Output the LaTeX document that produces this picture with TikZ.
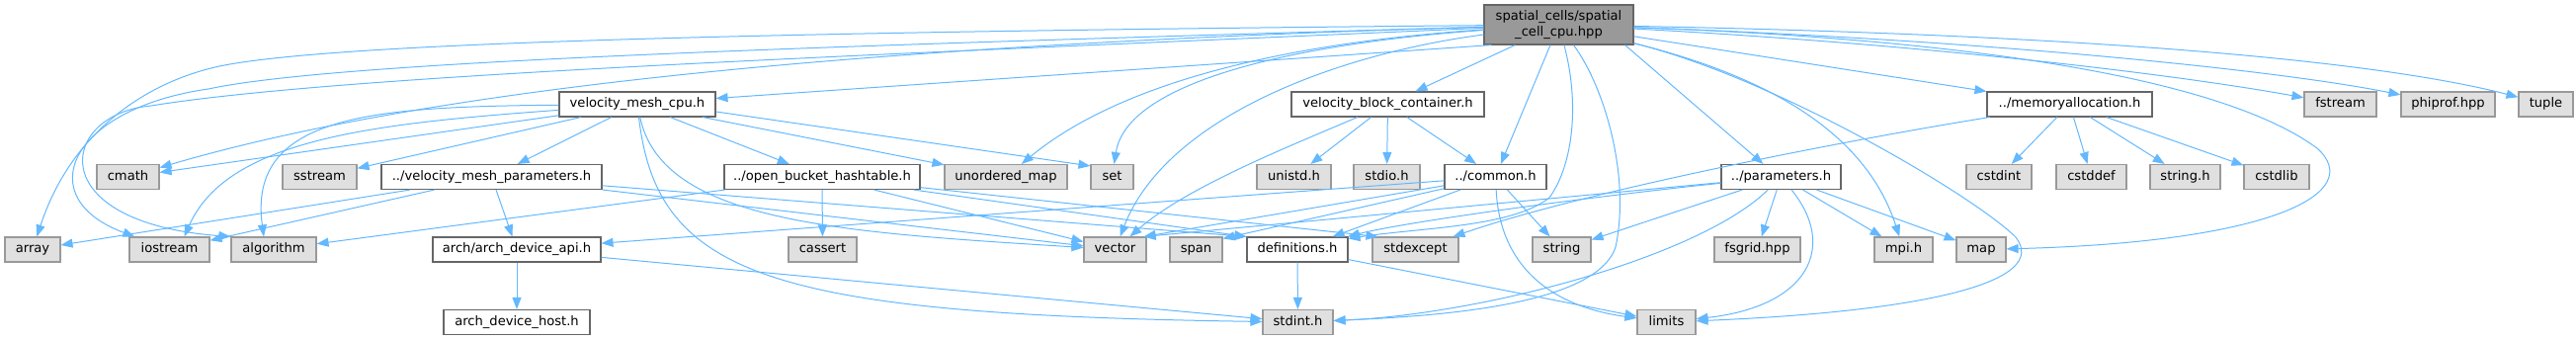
\documentclass[tikz,border=0pt]{standalone}
\usepackage{fontspec}
\setmainfont{DejaVu Sans}
\usetikzlibrary{arrows.meta,calc}
\definecolor{edgec}{HTML}{63B8FF}
\definecolor{sysfill}{HTML}{E0E0E0}
\definecolor{sysdraw}{HTML}{999999}
\definecolor{usrdraw}{HTML}{666666}
\definecolor{rootfill}{HTML}{999999}
\begin{document}
\begin{tikzpicture}[x=1pt,y=-1pt,
  boxbase/.style={draw, line width=1.1pt, inner xsep=1pt, inner ysep=0pt,
    font=\fontsize{13.1}{15.5}\selectfont, anchor=center},
  box/.style={boxbase, text height=9.5pt, text depth=3pt, minimum height=25pt},
  sys/.style={box, fill=sysfill, draw=sysdraw},
  usr/.style={box, fill=white, draw=usrdraw},
  root/.style={boxbase, fill=rootfill, draw=usrdraw, align=center, minimum height=40pt},
  e/.style={draw=edgec, line width=1pt, -{Triangle[length=12pt,width=9pt]}}]
\useasboundingbox (0,0) rectangle (2607,344);

% row 0
\node[root, minimum width=151pt] (S) at (1577.5,25) {spatial\_cells/spatial\\\_cell\_cpu.hpp};
% row 1
\node[usr, minimum width=158pt] (VM) at (645,105.5) {velocity\_mesh\_cpu.h};
\node[usr, minimum width=195pt] (VBC) at (1404.5,105.5) {velocity\_block\_container.h};
\node[usr, minimum width=167pt] (MA) at (2094.5,105.5) {../memoryallocation.h};
\node[sys, minimum width=73pt] (fstream) at (2368.5,105.5) {fstream};
\node[sys, minimum width=95pt] (phiprof) at (2477.5,105.5) {phiprof.hpp};
\node[sys, minimum width=55pt] (tuple) at (2576.5,105.5) {tuple};
% row 2
\begin{scope}[every node/.append style={minimum height=26pt}]
\node[sys, minimum width=63pt] (cmath) at (129.5,179) {cmath};
\node[sys, minimum width=75pt] (sstream) at (323.5,179) {sstream};
\node[usr, minimum width=223pt] (VMP) at (497.5,179) {../velocity\_mesh\_parameters.h};
\node[usr, minimum width=198pt] (OBH) at (832,179) {../open\_bucket\_hashtable.h};
\node[sys, minimum width=124pt] (umap) at (1018,179) {unordered\_map};
\node[sys, minimum width=43pt] (set) at (1125.5,179) {set};
\node[sys, minimum width=75pt] (unistd) at (1309.5,179) {unistd.h};
\node[sys, minimum width=67pt] (stdio) at (1403.5,179) {stdio.h};
\node[usr, minimum width=103pt] (common) at (1513.5,179) {../common.h};
\node[usr, minimum width=121pt] (params) at (1802.5,179) {../parameters.h};
\node[sys, minimum width=66pt] (cstdint) at (2023,179) {cstdint};
\node[sys, minimum width=71pt] (cstddef) at (2116.5,179) {cstddef};
\node[sys, minimum width=71pt] (stringh) at (2211.5,179) {string.h};
\node[sys, minimum width=66pt] (cstdlib) at (2304,179) {cstdlib};
\end{scope}
% row 3
\node[sys, minimum width=56pt] (array) at (33,252.5) {array};
\node[sys, minimum width=81pt] (iostream) at (171.5,252.5) {iostream};
\node[sys, minimum width=86pt] (algorithm) at (277,252.5) {algorithm};
\node[usr, minimum width=170pt] (api) at (523,252.5) {arch/arch\_device\_api.h};
\node[sys, minimum width=69pt] (cassert) at (832.5,252.5) {cassert};
\node[sys, minimum width=63pt] (vector) at (1128.5,252.5) {vector};
\node[sys, minimum width=53pt] (span) at (1210.5,252.5) {span};
\node[usr, minimum width=102pt] (defs) at (1313,252.5) {definitions.h};
\node[sys, minimum width=87pt] (stdexcept) at (1432.5,252.5) {stdexcept};
\node[sys, minimum width=59pt] (string) at (1580.5,252.5) {string};
\node[sys, minimum width=87pt] (fsgrid) at (1778.5,252.5) {fsgrid.hpp};
\node[sys, minimum width=59pt] (mpi) at (1926.5,252.5) {mpi.h};
\node[sys, minimum width=50pt] (map) at (2005,252.5) {map};
% row 4
\begin{scope}[every node/.append style={minimum height=26pt}]
\node[usr, minimum width=148pt] (host) at (523,326) {arch\_device\_host.h};
\node[sys, minimum width=71pt] (stdint) at (1313.5,326) {stdint.h};
\node[sys, minimum width=59pt] (limits) at (1686.5,326) {limits};
\end{scope}

% edges from spatial_cell_cpu.hpp
\draw[e] (S) .. controls (700,33) and (330,45) .. (222,67) .. controls (140,85) and (70,140) .. (array);
\draw[e] (S) .. controls (900,45) and (350,60) .. (211,90) .. controls (70,110) and (30,200) .. (iostream);
\draw[e] (S) .. controls (900,55) and (350,75) .. (153,107) .. controls (60,115) and (40,225) .. (algorithm.north west);
\draw[e] (S) .. controls (900,45) and (450,85) .. (cmath);
\draw[e] ($(S.south west)+(8,0)$) -- ($(VM.east)+(0,-6)$);
\draw[e] (S) .. controls (1350,40) and (1150,70) .. (umap);
\draw[e] (S) .. controls (1300,45) and (1140,85) .. (set);
\draw[e] (S) .. controls (1350,55) and (1180,120) .. (vector);
\draw[e] (S) -- (VBC);
\draw[e] (S) -- (common);
\draw[e] (S) .. controls (1600,110) and (1590,170) .. (1568,200) .. controls (1530,230) and (1440,230) .. ($(defs.north east)+(0,2)$);
\draw[e] (S) .. controls (1625,90) and (1650,180) .. (1635,250) .. controls (1615,310) and (1450,320) .. (stdint);
\draw[e] ($(S.south east)+(-9,0)$) -- ($(params.north)+(-18,0)$);
\draw[e] (S) .. controls (1800,80) and (1890,140) .. (mpi);
\draw[e] (S) .. controls (1800,80) and (2000,200) .. (2040,240) .. controls (2075,285) and (1950,315) .. (limits);
\draw[e] (S) .. controls (2000,40) and (2250,80) .. (2345,150) .. controls (2395,195) and (2300,245) .. (map);
\draw[e] (S) -- (MA);
\draw[e] (S) .. controls (1950,45) and (2200,75) .. (fstream);
\draw[e] (S) .. controls (2000,40) and (2300,70) .. (phiprof);
\draw[e] (S) .. controls (2100,35) and (2400,60) .. (tuple);

% velocity_mesh_cpu.h
\draw[e] (VM) -- (cmath);
\draw[e] (VM) .. controls (380,125) and (230,140) .. ($(iostream.north)+(15,0)$);
\draw[e] (VM) .. controls (380,108) and (250,115) .. ($(algorithm.north)+(-10,0)$);
\draw[e] (VM) -- (sstream);
\draw[e] (VM) -- (VMP);
\draw[e] (VM) -- (OBH);
\draw[e] (VM) -- (umap);
\draw[e] ($(VM.east)+(0,7.5)$) -- ($(set.north west)+(0,2)$);
\draw[e] (VM) .. controls (670,225) and (850,235) .. (vector);
\draw[e] (VM) .. controls (665,280) and (780,318) .. (stdint);

% ../velocity_mesh_parameters.h
\draw[e] (VMP) -- (array);
\draw[e] (VMP) -- (iostream);
\draw[e] (VMP) -- (api);
\draw[e] (VMP) -- (vector);
\draw[e] (VMP) -- (defs.north west);

% ../open_bucket_hashtable.h
\draw[e] (OBH) -- (algorithm);
\draw[e] (OBH) -- (cassert);
\draw[e] (OBH) -- (vector);
\draw[e] (OBH) -- (defs.north west);
\draw[e] (OBH) -- ($(stdexcept.north west)+(6,0)$);

% velocity_block_container.h
\draw[e] (VBC) .. controls (1300,150) and (1200,190) .. (vector);
\draw[e] (VBC) -- (unistd);
\draw[e] (VBC) -- (stdio);
\draw[e] (VBC) -- (common);

% ../common.h
\draw[e] (common) -- ($(vector.north east)+(-3,0)$);
\draw[e] (common) -- ($(span.north east)+(0,2)$);
\draw[e] (common) -- (api);
\draw[e] (common) -- (defs);
\draw[e] (common) -- (string);
\draw[e] (common) .. controls (1518,270) and (1570,310) .. (limits);

% ../parameters.h
\draw[e] (params) -- ($(vector.north east)+(-3,0)$);
\draw[e] (params) .. controls (1600,200) and (1420,225) .. (defs);
\draw[e] (params) -- (string);
\draw[e] (params) .. controls (1720,260) and (1500,318) .. (stdint);
\draw[e] (params) -- (fsgrid);
\draw[e] (params) .. controls (1860,250) and (1830,310) .. (limits);
\draw[e] (params) -- (mpi);
\draw[e] (params) -- (map);

% ../memoryallocation.h
\draw[e] (MA) .. controls (1850,145) and (1600,195) .. (stdexcept);
\draw[e] (MA) -- (cstdint);
\draw[e] (MA) -- (cstddef);
\draw[e] (MA) -- (stringh);
\draw[e] (MA) -- (cstdlib);

% definitions.h
\draw[e] (defs) -- (stdint);
\draw[e] (defs) -- (limits);

% arch/arch_device_api.h
\draw[e] (api) -- (host);
\draw[e] (api) -- (stdint);
\end{tikzpicture}
\end{document}
